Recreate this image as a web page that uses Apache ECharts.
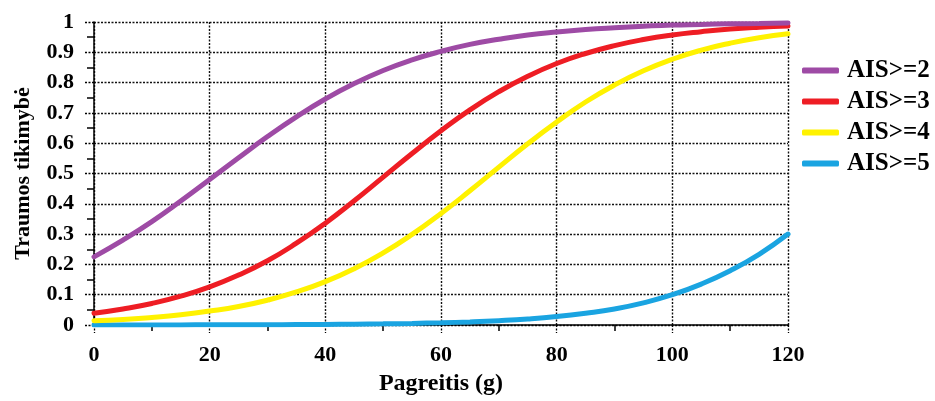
<!DOCTYPE html>
<html><head><meta charset="utf-8">
<script src="https://cdn.jsdelivr.net/npm/echarts@6/dist/echarts.min.js"></script>
<style>html,body{margin:0;padding:0;background:#fff}#c{width:935px;height:401px}</style>
</head><body><div id="c"></div>
<script>
const xValues = [0,5,10,15,20,25,30,35,40,45,50,55,60,65,70,75,80,85,90,95,100,105,110,115,120];
const ais2 = [0.225,0.280,0.341,0.409,0.480,0.552,0.622,0.687,0.746,0.797,0.840,0.875,0.903,0.926,0.943,0.957,0.967,0.975,0.981,0.986,0.990,0.992,0.994,0.995,0.997];
const ais3 = [0.039,0.053,0.071,0.095,0.126,0.165,0.212,0.270,0.336,0.410,0.488,0.566,0.641,0.710,0.770,0.821,0.863,0.896,0.922,0.942,0.957,0.968,0.977,0.983,0.987];
const ais4 = [0.014,0.018,0.025,0.034,0.046,0.061,0.082,0.109,0.143,0.186,0.238,0.299,0.368,0.443,0.521,0.598,0.670,0.736,0.792,0.839,0.877,0.907,0.930,0.948,0.961];
const ais5 = [0.0001,0.0002,0.0003,0.0004,0.0005,0.0007,0.001,0.0014,0.0019,0.0027,0.0038,0.0053,0.0074,0.0103,0.0144,0.020,0.028,0.039,0.053,0.073,0.100,0.135,0.179,0.233,0.300];
const seriesNames = ['AIS>=2','AIS>=3','AIS>=4','AIS>=5'];
const seriesColors = ['#9E4BA5','#EE1D24','#FFF200','#1AA4E1'];
const xTitle = 'Pagreitis (g)';
const yTitle = 'Traumos tikimybė';

const allData = [ais2, ais3, ais4, ais5];
const font = '"Liberation Serif", "Times New Roman", serif';
const chart = echarts.init(document.getElementById('c'), null, {renderer:'canvas'});
const gridLine = {show:true, lineStyle:{color:'#111', width:1.4, type:[2,1.5]}};
chart.setOption({
  animation:false,
  grid:{left:94, right:147, top:22, bottom:73.5},
  legend:{
    orient:'vertical', left:802, top:58, padding:0, itemGap:6, itemWidth:37, itemHeight:6,
    icon:'roundRect',
    textStyle:{fontFamily:font, fontWeight:'bold', fontSize:25, color:'#000', padding:[0,0,0,3]},
    data:seriesNames
  },
  xAxis:{
    type:'value', min:0, max:120, interval:20,
    name:xTitle, nameLocation:'middle', nameGap:47,
    nameTextStyle:{fontFamily:font, fontWeight:'bold', fontSize:24, color:'#000'},
    axisLine:{show:true, onZero:false, lineStyle:{color:'#000', width:1.5}},
    axisTick:{show:true, length:8, lineStyle:{color:'#000', width:1.3, type:[2,1.5]}},
    minorTick:{show:true, splitNumber:2, length:6, lineStyle:{color:'#000', width:1.5}},
    axisLabel:{margin:19, fontFamily:font, fontWeight:'bold', fontSize:22, color:'#000'},
    splitLine:gridLine
  },
  yAxis:{
    type:'value', min:0, max:1, interval:0.1,
    name:yTitle, nameLocation:'middle', nameGap:60, nameRotate:90,
    nameTextStyle:{fontFamily:font, fontWeight:'bold', fontSize:22, color:'#000'},
    axisLine:{show:true, lineStyle:{color:'#000', width:1.5}},
    axisTick:{show:true, length:10, lineStyle:{color:'#000', width:1.3, type:[2,1.5]}},
    minorTick:{show:true, splitNumber:2, length:7, lineStyle:{color:'#000', width:1.5}},
    axisLabel:{margin:20, fontFamily:font, fontWeight:'bold', fontSize:22, color:'#000'},
    splitLine:gridLine
  },
  series: seriesNames.map((n,i)=>({
    name:n, type:'line', smooth:true, showSymbol:false, symbol:'none',
    data:xValues.map((x,j)=>[x, allData[i][j]]),
    lineStyle:{color:seriesColors[i], width:5, cap:'round'},
    itemStyle:{color:seriesColors[i]},
    z: 10 - i
  }))
});
</script></body></html>
